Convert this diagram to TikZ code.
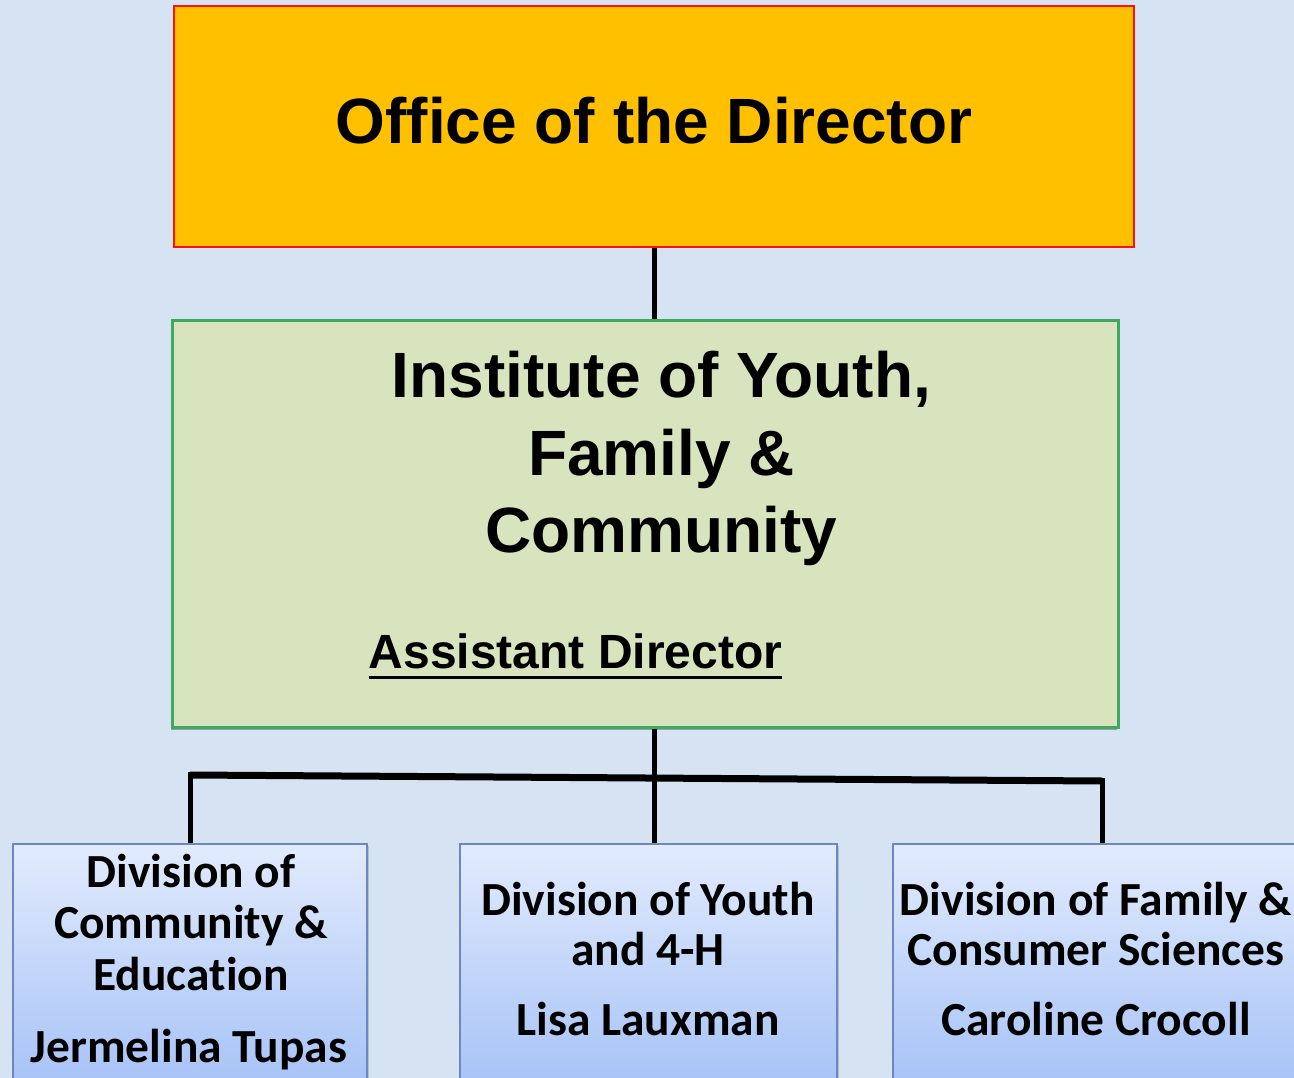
\documentclass[tikz,border=0pt]{standalone}
\usepackage{fontspec}
\setmainfont{Liberation Sans}
\newfontfamily\calib[Ligatures=NoCommon]{Carlito}
\usetikzlibrary{shadows}
\definecolor{bgblue}{HTML}{D5E3F3}
\definecolor{officefill}{HTML}{FFC000}
\definecolor{officeline}{HTML}{FF1010}
\definecolor{instfill}{HTML}{D7E4BD}
\definecolor{instline}{HTML}{3FA95E}
\definecolor{divtop}{HTML}{E2EBFD}
\definecolor{divbot}{HTML}{A3C0F6}
\definecolor{divline}{HTML}{6E86C2}
\tikzset{
  officebox/.style={draw=officeline, line width=2pt, fill=officefill, inner sep=0pt},
  instbox/.style={draw=instline, line width=3pt, fill=instfill, inner sep=0pt,
    drop shadow={shadow xshift=-1.5pt, shadow yshift=-2.5pt, fill=black!70, opacity=0.45}},
  divbox/.style={draw=divline, line width=2pt, top color=divtop, bottom color=divbot, inner sep=0pt,
    drop shadow={shadow xshift=1.5pt, shadow yshift=-1.5pt, fill=black!60, opacity=0.3}},
  conn/.style={line width=5pt, black},
  barline/.style={line width=7pt, black},
  txt/.style={inner sep=0pt, anchor=base, text=black},
  bigtxt/.style={txt, font=\bfseries\fontsize{64}{76}\selectfont},
  midtxt/.style={txt, font=\bfseries\fontsize{48}{56}\selectfont},
  divtxt/.style={txt, font=\calib\bfseries\fontsize{47.5}{51}\selectfont},
}
\begin{document}
\begin{tikzpicture}[x=1pt,y=-1pt]
\fill[bgblue] (0,0) rectangle (1294,1078);
\useasboundingbox (0,0) rectangle (1294,1078);

\coordinate (barL) at (190,775);
\coordinate (barR) at (1102,781);

% boxes
\node[officebox, minimum width=960pt, minimum height=241pt] (office) at (654,126.5) {};
\node[instbox, minimum width=946pt, minimum height=407pt] (inst) at (645,523.5) {};
\node[divbox, minimum width=354pt, minimum height=256pt] (left) at (190,972) {};
\node[divbox, minimum width=377pt, minimum height=256pt] (mid) at (648.5,972) {};
\node[divbox, minimum width=417pt, minimum height=256pt] (right) at (1101.5,972) {};

% connectors
\draw[conn] (office.south) -- (office.south |- inst.north);
\draw[conn] (office.south |- inst.south) -- (office.south |- mid.north);
\draw[barline] (barL) -- (barR);
\draw[conn] ([yshift=3pt]barL) -- (left.north);
\draw[conn] ([yshift=3pt]barR) -- (barR |- right.north);

% texts
\node[bigtxt] (t1) at (654,144) {Office of the Director};
\node[bigtxt] (t2) at (661.5,397) {Institute of Youth,};
\node[bigtxt] (t3) at (661.5,475) {Family \&};
\node[bigtxt] (t4) at (661.5,552) {Community};
\node[midtxt] (ad) at (575.5,668) {Assistant Director};
\draw[line width=3pt] ([yshift=-9pt]ad.base west) -- ([yshift=-9pt]ad.base east);

\node[divtxt] (l1) at (191,887) {Division of};
\node[divtxt] (l2) at (191,938) {Community \&};
\node[divtxt] (l3) at (191,990) {Education};
\node[divtxt] (l4) at (189,1062) {Jermelina Tupas};

\node[divtxt] (m1) at (648,915) {Division of Youth};
\node[divtxt] (m2) at (648,965) {and 4-H};
\node[divtxt] (m3) at (648,1035) {Lisa Lauxman};

\node[divtxt] (r1) at (1096,915) {Division of Family \&};
\node[divtxt] (r2) at (1096,965) {Consumer Sciences};
\node[divtxt] (r3) at (1096,1035) {Caroline Crocoll};
\end{tikzpicture}
\end{document}
